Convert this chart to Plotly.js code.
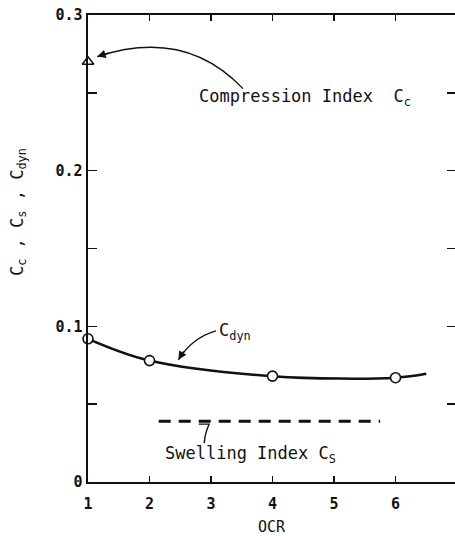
<!DOCTYPE html>
<html>
<head>
<meta charset="utf-8">
<script src="https://cdn.plot.ly/plotly-3.0.1.min.js"></script>
<style>html,body{margin:0;padding:0;background:#fff;}#chart{width:455px;height:536px;}</style>
</head>
<body>
<div id="chart"></div>
<script>
// ---- data ----
const ocrDyn = [1, 2, 4, 6];
const cdyn = [0.092, 0.078, 0.068, 0.067];
const curveX = [1, 2, 4, 6, 6.5];
const curveY = [0.092, 0.078, 0.068, 0.067, 0.0695];
const ocrCc = [1];
const cc = [0.27];
const ocrCs = [2.15, 5.75];
const cs = [0.039, 0.039];
const xTicks = [1, 2, 3, 4, 5, 6];
const yTickVals = [0, 0.05, 0.1, 0.15, 0.2, 0.25, 0.3];
const yTickText = ['0', '', '0.1', '', '0.2', '', '0.3'];

const FONT = 'DejaVu Sans Mono, Liberation Mono, monospace';
const INK = '#111';

const traces = [
  {x: curveX, y: curveY, mode: 'lines', line: {color: INK, width: 2.5, shape: 'spline', smoothing: 1}, hoverinfo: 'skip'},
  {x: ocrDyn, y: cdyn, mode: 'markers', cliponaxis: false, marker: {symbol: 'circle', size: 10, color: '#fff', line: {color: INK, width: 1.6}}},
  {x: ocrCc, y: cc, mode: 'markers', cliponaxis: false, marker: {symbol: 'triangle-up', size: 10, color: '#fff', line: {color: INK, width: 1.6}}},
  {x: ocrCs, y: cs, mode: 'lines', line: {color: INK, width: 3, dash: '12px,8px'}},
  {x: [1], y: [0], yaxis: 'y2', mode: 'markers', marker: {opacity: 0}, hoverinfo: 'skip'}
];

const layout = {
  width: 455, height: 536,
  margin: {l: 88, r: 0, t: 15, b: 54},
  paper_bgcolor: '#fff', plot_bgcolor: '#fff',
  showlegend: false,
  font: {family: FONT, color: INK, size: 15},
  xaxis: {
    range: [1, 6.967], tickvals: xTicks, ticktext: xTicks.map(String),
    ticks: 'inside', ticklen: 6, tickwidth: 1.5, tickcolor: INK,
    showline: true, linecolor: INK, linewidth: 2, mirror: 'ticks',
    showgrid: false, zeroline: false, ticklabelstandoff: 7,
    tickfont: {family: FONT, size: 15, color: INK, weight: 'bold'},
    title: {text: 'OCR', font: {family: FONT, size: 15, color: INK}, standoff: 12}
  },
  yaxis: {
    range: [0, 0.3], tickvals: yTickVals, ticktext: yTickText,
    ticks: 'inside', ticklen: 9, tickwidth: 1.5, tickcolor: INK,
    showline: true, linecolor: INK, linewidth: 2.5,
    showgrid: false, zeroline: false,
    tickfont: {family: FONT, size: 15, color: INK, weight: 'bold'}
  },
  yaxis2: {
    overlaying: 'y', side: 'right', range: [0, 0.3], tickvals: yTickVals,
    showticklabels: false, ticks: 'inside', ticklen: 8, tickwidth: 1.5, tickcolor: INK,
    showline: false, showgrid: false, zeroline: false
  },
  shapes: [
    {type: 'path', xref: 'x', yref: 'y', path: 'M 3.52,0.2527 Q 2.58,0.292 1.15,0.2733', line: {color: INK, width: 1.4}},
    {type: 'path', xref: 'x', yref: 'y', path: 'M 3.08,0.0971 Q 2.69,0.0926 2.47,0.0785', line: {color: INK, width: 1.4}},
    {type: 'path', xref: 'x', yref: 'y', path: 'M 2.80,0.0372 L 2.97,0.0372 Q 2.90,0.031 2.89,0.025', line: {color: INK, width: 1.4}}
  ],
  annotations: [
    {xref: 'x', yref: 'y', x: 2.77, y: 0.247, xanchor: 'left', yanchor: 'middle', showarrow: false,
     text: 'Compression Index &nbsp;C<sub>c</sub>', font: {family: FONT, size: 17, color: INK}},
    {xref: 'x', yref: 'y', x: 3.1, y: 0.0965, xanchor: 'left', yanchor: 'middle', showarrow: false,
     text: 'C<sub>dyn</sub>', font: {family: FONT, size: 17, color: INK}},
    {xref: 'x', yref: 'y', x: 2.22, y: 0.0174, xanchor: 'left', yanchor: 'middle', showarrow: false,
     text: 'Swelling Index C<sub>S</sub>', font: {family: FONT, size: 17, color: INK}},
    {xref: 'paper', yref: 'paper', x: 0, xshift: -70, y: 0.578, xanchor: 'center', yanchor: 'middle', showarrow: false,
     textangle: -90, text: 'C<sub>c</sub> , C<sub>s</sub> , C<sub>dyn</sub>', font: {family: FONT, size: 17, color: INK}},
    {xref: 'x', yref: 'y', x: 1.15, y: 0.2733, ax: 13, ay: -4, showarrow: true, text: '',
     arrowhead: 2, arrowsize: 1.2, arrowwidth: 1.4, arrowcolor: INK},
    {xref: 'x', yref: 'y', x: 2.47, y: 0.0785, ax: 6, ay: -10, showarrow: true, text: '',
     arrowhead: 2, arrowsize: 1.2, arrowwidth: 1.4, arrowcolor: INK}
  ]
};

Plotly.newPlot('chart', traces, layout, {displayModeBar: false, staticPlot: true});
</script>
</body>
</html>
